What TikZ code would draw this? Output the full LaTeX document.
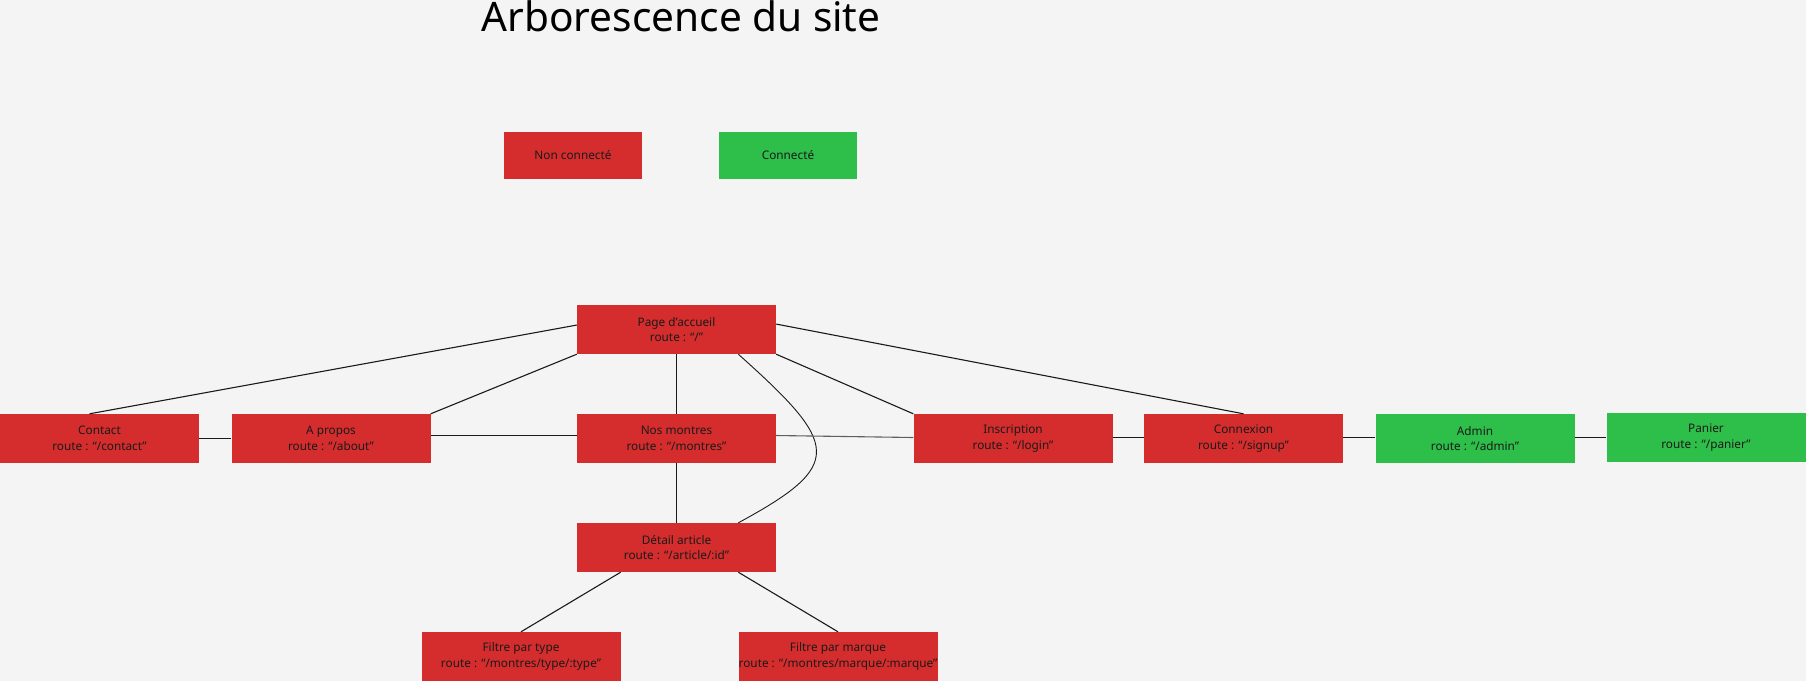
\documentclass[tikz,border=0pt]{standalone}
\usepackage{fontspec}
\setmainfont{Noto Sans}
\usetikzlibrary{calc}
\definecolor{pagebg}{HTML}{F4F4F4}
\definecolor{offred}{HTML}{D52D2D}
\definecolor{onGreen}{HTML}{2EBE4A}
\definecolor{ink}{HTML}{1A1A1A}
\tikzset{
  pagebox/.style={rectangle, fill=offred, draw=none, minimum width=199pt, minimum height=49pt,
    inner sep=0pt, align=center, text=ink, font=\fontsize{11.8}{15.5}\selectfont},
  userbox/.style={pagebox, fill=onGreen},
  legendbox/.style={pagebox, minimum width=138pt, minimum height=47pt},
  link/.style={draw=ink, line width=1.1pt}
}
\begin{document}
\begin{tikzpicture}[x=1pt, y=-1pt]
  \fill[pagebg] (0,0) rectangle (1806,681);
  \useasboundingbox (0,0) rectangle (1806,681);

  % title
  \node[anchor=base, text=black, font=\fontsize{40.6}{48}\selectfont, inner sep=0pt] (title) at (681,31) {Arborescence du site};

  % legend
  \node[legendbox] (legoff) at (573,155.5) {Non connecté};
  \node[legendbox, fill=onGreen] (legon) at (788,155.5) {Connecté};

  % pages
  \node[pagebox] (home) at (676.5,329.5) {Page d’accueil\\route : “/”};
  \node[pagebox] (contact) at (99.5,438.5) {Contact\\route : “/contact”};
  \node[pagebox] (about) at (331,438.5) {A propos\\route : “/about”};
  \node[pagebox] (watches) at (676.5,438.5) {Nos montres\\route : “/montres”};
  \node[pagebox] (signup) at (1013,438.5) {Inscription\\route : “/login”};
  \node[pagebox] (login) at (1243.5,438.5) {Connexion\\route : “/signup”};
  \node[userbox] (admin) at (1475,438.5) {Admin\\route : “/admin”};
  \node[userbox] (cart) at (1706,437.5) {Panier\\route : “/panier”};
  \node[pagebox] (detail) at (676.5,547.5) {Détail article\\route : “/article/:id”};
  \node[pagebox] (bytype) at (521,656.5) {Filtre par type\\route : “/montres/type/:type”};
  \node[pagebox] (bybrand) at (838,656.5) {Filtre par marque\\route : “/montres/marque/:marque”};

  % links from the home page
  \draw[link] ($(home.north west)!0.41!(home.south west)$) -- ($(contact.north west)!0.45!(contact.north east)$);
  \draw[link] (home.south west) -- (about.north east);
  \draw[link] (home.south) -- (watches.north);
  \draw[link] (home.south east) -- (signup.north west);
  \draw[link] ($(home.north east)!0.39!(home.south east)$) -- (login.north);
  \draw[link, line width=0.9pt] ($(home.south west)!0.81!(home.south east)$)
    .. controls (840,445) and (845,465) .. ($(detail.north west)!0.81!(detail.north east)$);

  % links along the row
  \draw[link] (contact.east) -- (about.west);
  \draw[link] ($(about.east)+(0,-3)$) -- ($(watches.west)+(0,-3)$);
  \draw[link, draw=ink!70] ($(watches.east)+(0,-3)$) -- ($(signup.west)+(0,-1)$);
  \draw[link] ($(signup.east)+(0,-1)$) -- ($(login.west)+(0,-1)$);
  \draw[link] ($(login.east)+(0,-1)$) -- ($(admin.west)+(0,-1)$);
  \draw[link] ($(admin.east)+(0,-1)$) -- (cart.west);

  % article detail and filters
  \draw[link] (watches.south) -- (detail.north);
  \draw[link] ($(detail.south west)!0.22!(detail.south east)$) -- (bytype.north);
  \draw[link] ($(detail.south west)!0.81!(detail.south east)$) -- (bybrand.north);
\end{tikzpicture}
\end{document}
